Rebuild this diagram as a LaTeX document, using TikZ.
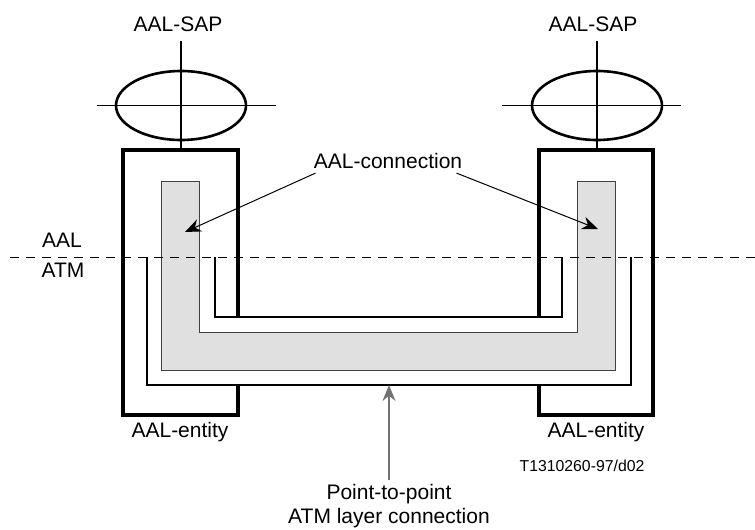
\documentclass[tikz,border=0pt]{standalone}
\usepackage{fontspec}
\setmainfont{Liberation Sans}
\usetikzlibrary{shapes.geometric, arrows.meta, positioning}
\definecolor{conngray}{HTML}{E0E0E0}
\tikzset {
    x=0.5pt, y=-0.5pt,
    >={Stealth[length=8pt,width=6.5pt]},
    lbl/.style={inner sep=2pt, font=\fontsize{10.5}{12}\selectfont},
    small/.style={inner sep=2pt, font=\fontsize{7.9}{9}\selectfont},
    sap/.style={ellipse, draw, line width=1.3pt, minimum width=65pt, minimum height=34.5pt, inner sep=0pt},
    cross/.style={line width=0.6pt},
    entity/.style={line width=2pt},
    thinline/.style={line width=0.6pt},
    pointer/.style={->, line width=0.5pt}
}

\begin{document}
\begin{tikzpicture}
    \useasboundingbox (0,0) rectangle (755,530);

    % AAL connection (shaded)
    \fill[conngray, draw=black!75, line width=0.5pt]
        (161.7,181.7) -- (199.3,181.7) -- (199.3,332.7) -- (577.7,332.7)
        -- (577.7,181.7) -- (615.7,181.7) -- (615.7,370) -- (161.7,370) -- cycle;

    % ATM layer connection
    \draw[thinline] (215,257) -- (215,317) -- (562,317) -- (562,257);
    \draw[thinline] (147,257) -- (147,385) -- (631,385) -- (631,257);

    % AAL entities
    \draw[entity] (238,318) -- (238,150) -- (123,150) -- (123,415) -- (238,415) -- (238,384);
    \draw[entity] (539,318) -- (539,150) -- (653,150) -- (653,415) -- (539,415) -- (539,384);

    % SAPs
    \node[sap] (sapL) at (181,105.5) {};
    \node[sap] (sapR) at (597,105.5) {};
    \draw[cross] (181,41) -- (181,150);
    \draw[cross] (97,105.5) -- (276,105.5);
    \draw[cross] (597,41) -- (597,150);
    \draw[cross] (502,105.5) -- (681,105.5);

    % layer boundary
    \draw[line width=0.45pt, dash pattern=on 4.5pt off 3.5pt] (10,257) -- (755,257);

    \node[lbl] (sapLtext) at (178,24) {AAL-SAP};
    \node[lbl] (sapRtext) at (593,24) {AAL-SAP};
    \node[lbl] (aal) at (62,240) {AAL};
    \node[lbl] (atm) at (63,270) {ATM};
    \node[lbl] (entL) at (180,432) {AAL-entity};
    \node[lbl] (entR) at (596,432) {AAL-entity};
    \node[small] (fig) at (582,466) {T1310260-97/d02};

    \node[lbl] (conn) at (388,161) {AAL-connection};
    \coordinate (tipL) at (185,232);
    \coordinate (tipR) at (598,229);
    \draw[pointer] ([xshift=3pt]conn.south west) -- (tipL);
    \draw[pointer] ([xshift=-5pt]conn.south east) -- (tipR);

    \node[lbl, align=center] (ptp) at (389,506) {Point-to-point\\ATM layer connection};
    \coordinate (tipB) at (389,385);
    \draw[->, draw=black!55, line width=0.9pt] (ptp.north) -- (tipB);
\end{tikzpicture}
\end{document}
